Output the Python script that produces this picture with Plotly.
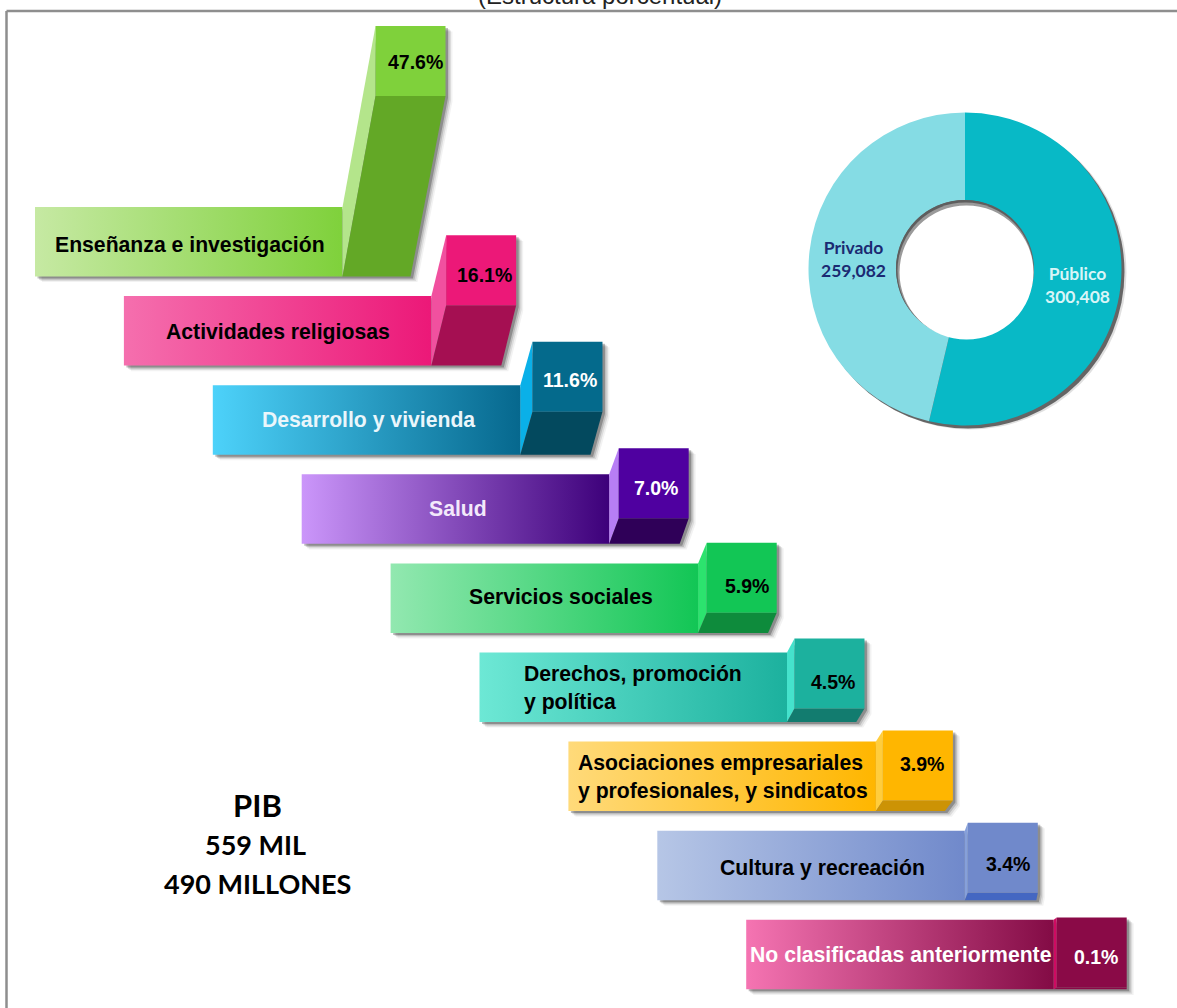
import numpy as np
import plotly.graph_objects as go

# ---- data ----
categories = ["Enseñanza e investigación", "Actividades religiosas", "Desarrollo y vivienda",
              "Salud", "Servicios sociales", "Derechos, promoción<br>y política",
              "Asociaciones empresariales<br>y profesionales, y sindicatos",
              "Cultura y recreación", "No clasificadas anteriormente"]
shares = [47.6, 16.1, 11.6, 7.0, 5.9, 4.5, 3.9, 3.4, 0.1]
donut_labels = ["Público", "Privado"]
donut_values = [300408, 259082]
headline = ["PIB", "559 MIL", "490 MILLONES"]
subtitle = "(Estructura porcentual)"

# ---- styles ----
grad_start = ["#C6E9A3", "#F56FAE", "#4DD2FA", "#CB96FA", "#92E8B0", "#6DE8D5", "#FFDA7A", "#B6C6E6", "#F574B2"]
grad_end = ["#7FD13B", "#EC1878", "#06688E", "#3D007A", "#12C655", "#1CB19E", "#FFB600", "#7089CB", "#830B45"]
lit_face = ["#7FD13B", "#EC1878", "#046A8C", "#4F00A0", "#12C655", "#1CB19E", "#FFB600", "#7089CB", "#8A0A47"]
dark_face = ["#63A826", "#A50F52", "#03495E", "#2F0058", "#0E8B3C", "#127C6F", "#CC9305", "#4467C2", "#8A0A47"]
side_face = ["#B4E58B", "#F1509F", "#0AB0E8", "#B77EF5", "#2CE36E", "#45E2CC", "#FFCD3D", "#86A0DA", "#CF0A62"]
label_colors = ["black", "black", "#EAF6FB", "#F3E9FB", "black", "black", "black", "black", "white"]
share_colors = ["black", "black", "white", "white", "black", "black", "black", "black", "white"]

# ---- layout of the staircase and the value -> block scales ----
W, H = 1177, 1008
STEP_X, STEP_Y = 88.9, 89.1
LEFT0, TOP0 = 35, 207
FRONT_W, FRONT_H, LIT_W, LIT_H = 307.5, 69.5, 70, 70
SCALE_DOMAIN = [0, 3.4, 3.9, 7, 47.6]
RISE_RANGE = [2, 8, 11, 26, 181]
SLANT_RANGE = [3, 3, 7, 9.5, 33]
FOOT_RANGE = [0, 1.5, 8, 9, 35]
label_x = [190, 278, 368, 458, 561, 522, 576, 822, 901]
label_anchor = ["center", "center", "center", "center", "center", "left", "left", "center", "center"]
label_dy = [3, 1, 0, -1, -2, 1, 1, 3, 0]
share_x = [415.5, 484, 569.5, 656, 746.5, 833, 921.5, 1008, 1095.5]
share_y = [62, 275, 380, 488, 586, 682, 764, 864, 957]

fig = go.Figure()


def poly(xs, ys, color=None, grad=None):
    t = dict(x=list(xs) + [xs[0]], y=list(ys) + [ys[0]], mode="lines", line=dict(width=0),
             fill="toself", hoverinfo="skip", showlegend=False)
    if grad:
        t["fillgradient"] = grad
        t["fillcolor"] = None
    else:
        t["fillcolor"] = color
    fig.add_trace(go.Scatter(**t))


annotations = []
for i, (cat, v) in enumerate(zip(categories, shares)):
    x0 = LEFT0 + STEP_X * i
    top = TOP0 + STEP_Y * i
    bottom = top + FRONT_H
    x1 = x0 + FRONT_W
    rise = float(np.interp(v, SCALE_DOMAIN, RISE_RANGE))
    slant = float(np.interp(v, SCALE_DOMAIN, SLANT_RANGE))
    foot = float(np.interp(v, SCALE_DOMAIN, FOOT_RANGE))
    bx0 = x1 + slant
    bx1 = bx0 + LIT_W
    btop = top - rise
    bmid = min(btop + LIT_H, bottom)
    fx1 = bx1 - foot

    # soft drop shadow of the whole silhouette
    sx = [x0, x1, bx0, bx1, bx1, fx1, x0]
    sy = [top, top, btop, btop, bmid, bottom, bottom]
    for off, alpha in [(7, 0.05), (5.5, 0.09), (4, 0.14), (2.5, 0.25)]:
        poly([a + off for a in sx], [b + off * 0.8 for b in sy], f"rgba(0,0,0,{alpha})")

    # front face with its gradient
    poly([x0, x1, x1, x0], [top, top, bottom, bottom],
         grad=dict(type="horizontal", start=x0, stop=x1,
                   colorscale=[[0, grad_start[i]], [1, grad_end[i]]]))
    # side, lower dark face, upper lit face
    poly([x1, bx0, bx0, x1], [top, btop, bmid, bottom], side_face[i])
    poly([bx0, bx1, fx1, x1], [bmid, bmid, bottom, bottom], dark_face[i])
    poly([bx0, bx1, bx1, bx0], [btop, btop, bmid, bmid], lit_face[i])

    annotations.append(dict(x=label_x[i], y=(top + bottom) / 2 + label_dy[i], text=f"<b>{cat}</b>",
                            xanchor=label_anchor[i], align="left", yanchor="middle", showarrow=False,
                            font=dict(family="Liberation Sans", size=21.2, color=label_colors[i])))
    annotations.append(dict(x=share_x[i], y=share_y[i], text=f"<b>{v:.1f}%</b>",
                            xanchor="center", yanchor="middle", showarrow=False,
                            font=dict(family="Liberation Sans", size=19.5, color=share_colors[i])))

# ---- donut ----
CX, CY, R_OUT, R_IN = 965, 269, 156.5, 69
fig.add_trace(go.Pie(values=donut_values, labels=donut_labels, sort=False, direction="clockwise",
                     rotation=0, hole=R_IN / R_OUT, textinfo="none", hoverinfo="skip", showlegend=False,
                     marker=dict(colors=["#08B9C6", "#85DCE4"], line=dict(width=0)),
                     domain=dict(x=[(CX - R_OUT) / W, (CX + R_OUT) / W],
                                 y=[1 - (CY + R_OUT) / H, 1 - (CY - R_OUT) / H])))


def circle(cx, cy, r, color, layer):
    return dict(type="circle", xref="x", yref="y", x0=cx - r, x1=cx + r, y0=cy - r, y1=cy + r,
                fillcolor=color, line=dict(width=0), layer=layer)


shapes = [
    circle(CX + 5, CY + 4, R_OUT, "rgba(0,0,0,0.12)", "below"),
    circle(CX + 3, CY + 3, R_OUT, "rgba(60,60,60,0.75)", "below"),
    circle(CX - 0.5, CY - 0.5, R_IN - 0.5, "#5E5E5E", "above"),
    circle(CX + 0.5, CY + 1.5, R_IN - 1, "#9A9A9A", "above"),
    circle(CX + 1.5, CY + 3.5, R_IN - 2, "white", "above"),
    dict(type="line", xref="x", yref="y", x0=6.5, x1=W, y0=11, y1=11, layer="above",
         line=dict(color="#8E8E8E", width=2.5)),
    dict(type="line", xref="x", yref="y", x0=6.5, x1=6.5, y0=11, y1=H, layer="above",
         line=dict(color="#8E8E8E", width=2.5)),
]

donut_pos = [(1077, 285, "#D8F5F7"), (853, 259, "#1B2A72")]
for lab, val, (x, y, c) in zip(donut_labels, donut_values, donut_pos):
    annotations.append(dict(x=x, y=y, text=f"<b>{lab}<br>{val:,}</b>", showarrow=False, align="center",
                            xanchor="center", yanchor="middle",
                            font=dict(family="Lato", size=17.5, color=c)))

for txt, x, y, s in zip(headline, [257, 255, 257.5], [805, 844, 883], [31, 27, 27]):
    annotations.append(dict(x=x, y=y, text=f"<b>{txt}</b>", showarrow=False, xanchor="center",
                            yanchor="middle", font=dict(family="Lato", size=s, color="black")))

annotations.append(dict(x=600, y=11, text=subtitle, showarrow=False, xanchor="center", yanchor="bottom",
                        font=dict(family="Liberation Sans", size=24, color="#222222")))

fig.update_layout(width=W, height=H, margin=dict(l=0, r=0, t=0, b=0), showlegend=False,
                  paper_bgcolor="white", plot_bgcolor="white",
                  xaxis=dict(range=[0, W], visible=False, fixedrange=True),
                  yaxis=dict(range=[H, 0], visible=False, fixedrange=True),
                  shapes=shapes, annotations=annotations)
fig.write_html("out.html", config=dict(displayModeBar=False),
               post_script="document.body.style.margin='0';document.body.style.overflow='hidden';")
